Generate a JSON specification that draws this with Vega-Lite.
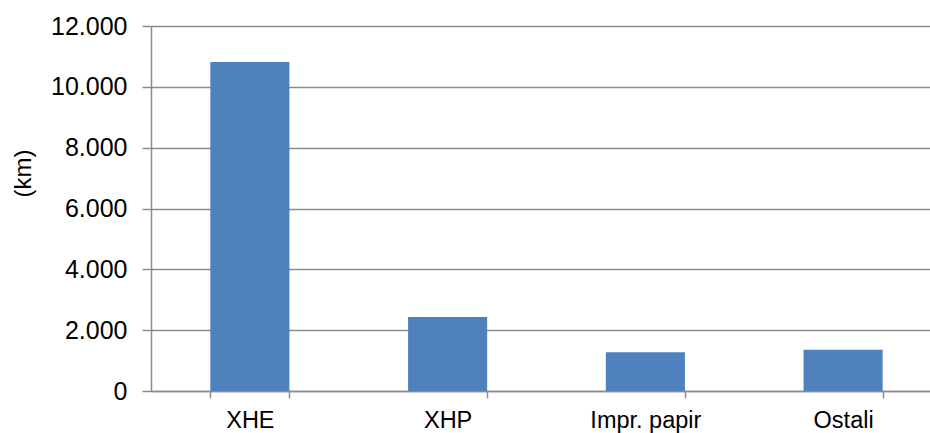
{
  "$schema": "https://vega.github.io/schema/vega-lite/v6.json",
  "autosize": {"type": "none"},
  "padding": {"left": 151, "top": 26, "right": 0, "bottom": 42},
  "width": 791,
  "height": 365,
  "background": "white",
  "data": {
    "values": [
      {"category": "XHE", "km": 10815},
      {"category": "XHP", "km": 2434},
      {"category": "Impr. papir", "km": 1273},
      {"category": "Ostali", "km": 1358}
    ]
  },
  "mark": {"type": "bar", "color": "#4f81bd"},
  "encoding": {
    "x": {
      "field": "category",
      "type": "nominal",
      "sort": null,
      "scale": {"paddingInner": 0.6, "paddingOuter": 0.3},
      "axis": {
        "title": null,
        "labelAngle": 0,
        "tickBand": "extent",
        "grid": false,
        "domainColor": "#8c8c8c",
        "domainWidth": 1.5,
        "tickColor": "#8c8c8c",
        "tickWidth": 1.5,
        "tickSize": 7,
        "labelPadding": 10,
        "labelFont": "Liberation Sans",
        "labelFontSize": 23.5,
        "labelColor": "#000000",
        "labelBaseline": "top"
      }
    },
    "y": {
      "field": "km",
      "type": "quantitative",
      "scale": {"domain": [0, 12000], "nice": false},
      "axis": {
        "title": "(km)",
        "values": [0, 2000, 4000, 6000, 8000, 10000, 12000],
        "labelExpr": "replace(format(datum.value, ','), ',', '.')",
        "grid": true,
        "gridColor": "#8c8c8c",
        "gridWidth": 1.3,
        "domainColor": "#8c8c8c",
        "domainWidth": 1.5,
        "tickColor": "#8c8c8c",
        "tickWidth": 1.5,
        "tickSize": 9,
        "labelPadding": 15,
        "labelFont": "Liberation Sans",
        "labelFontSize": 25,
        "labelColor": "#000000",
        "titleFont": "Liberation Sans",
        "titleFontSize": 24,
        "titleFontWeight": "normal",
        "titleColor": "#000000",
        "titleAngle": -90,
        "titleAlign": "center",
        "titleBaseline": "middle",
        "titleX": -128,
        "titleY": 147
      }
    }
  },
  "config": {"view": {"stroke": null}}
}
